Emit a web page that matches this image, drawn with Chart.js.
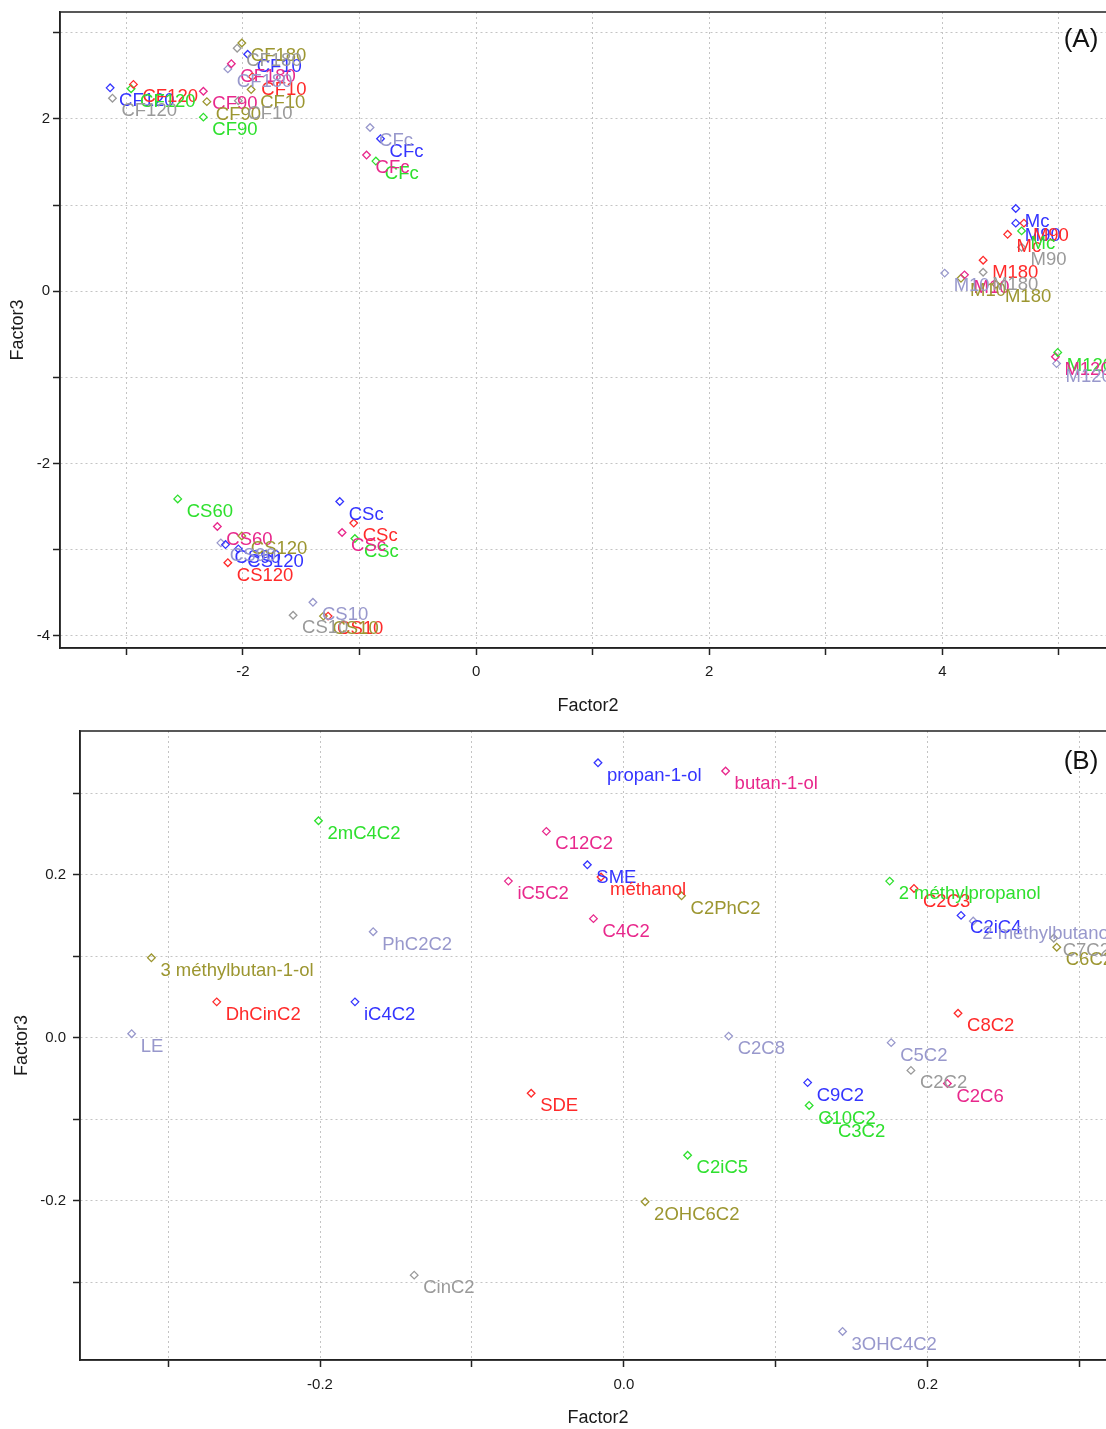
<!DOCTYPE html>
<html><head><meta charset="utf-8">
<script src="https://cdn.jsdelivr.net/npm/chart.js@4"></script>
<style>
html,body{margin:0;padding:0;background:#fff;overflow:hidden;width:1106px;height:1429px;}
#wrap{position:relative;width:1130px;height:1429px;}
canvas{position:absolute;left:0;}
#ca{top:0;width:1130px;height:715px;}
#cb{top:715px;width:1130px;height:714px;}
</style></head><body>
<div id="wrap"><canvas id="ca" width="1130" height="715"></canvas><canvas id="cb" width="1130" height="714"></canvas></div>
<script>
// ---------- Panel (A): samples ----------
const A_series  = ['S1','S1','S1','S1','S1','S1','S1','S1',
                   'S2','S2','S2','S2','S2','S2','S2','S2',
                   'S3','S3','S3','S3','S3','S3','S3',
                   'S4','S4','S4','S4','S4','S4','S4',
                   'S5','S5','S5','S5','S5','S5','S5',
                   'S6','S6','S6','S6','S6','S6',
                   'S7','S7','S7','S7','S7','S7'];
const A_labels  = ['CF120','CF10','CFc','CSc','CS90','CS120','Mc','M90',
                   'CF120','CF10','CSc','CS120','CS10','M90','Mc','M180',
                   'CF120','CF90','CFc','CS60','CSc','Mc','M120',
                   'CF90','CF180','CFc','CS60','CSc','M10','M120',
                   'CF180','CF90','CF10','CS120','CS10','M10','M180',
                   'CF180','CFc','CS90','CS10','M10','M120',
                   'CF120','CF180','CF10','CS10','M180','M90'];
const A_factor2 = [-3.14,-1.96,-0.82,-1.17,-2.15,-2.04,4.63,4.63,
                   -2.94,-1.92,-1.05,-2.13,-1.27,4.70,4.56,4.35,
                   -2.96,-2.34,-0.86,-2.56,-1.04,4.68,4.99,
                   -2.34,-2.10,-0.94,-2.22,-1.15,4.19,4.97,
                   -2.01,-2.31,-1.93,-2.01,-1.31,4.16,4.46,
                   -2.13,-0.91,-2.19,-1.40,4.02,4.98,
                   -3.12,-2.05,-2.04,-1.57,4.35,4.68];
const A_factor3 = [2.36,2.75,1.77,-2.44,-2.94,-2.99,0.96,0.79,
                   2.40,2.49,-2.69,-3.15,-3.77,0.79,0.66,0.36,
                   2.35,2.02,1.51,-2.41,-2.87,0.70,-0.71,
                   2.32,2.64,1.58,-2.73,-2.80,0.19,-0.76,
                   2.88,2.20,2.34,-2.84,-3.77,0.15,0.08,
                   2.58,1.90,-2.92,-3.61,0.21,-0.84,
                   2.24,2.82,2.21,-3.76,0.22,0.51];
const A_xTicks = [-2, 0, 2, 4];
const A_yTicks = [-4, -2, 0, 2];

// ---------- Panel (B): compounds ----------
const B_series  = ['S1','S1','S1','S1','S1',
                   'S2','S2','S2','S2','S2',
                   'S4','S4','S4','S4','S4',
                   'S3','S3','S3','S3','S3',
                   'S5','S5','S5','S5',
                   'S6','S6','S6','S6','S6','S6',
                   'S7','S7','S7'];
const B_labels  = ['propan-1-ol','SME','iC4C2','C9C2','C2iC4',
                   'méthanol','DhCinC2','SDE','C2C3','C8C2',
                   'butan-1-ol','C12C2','iC5C2','C4C2','C2C6',
                   '2mC4C2','2 méthylpropanol','C10C2','C3C2','C2iC5',
                   '3 méthylbutan-1-ol','C2PhC2','2OHC6C2','C6C2',
                   'PhC2C2','LE','C2C8','C5C2','3OHC4C2','2 méthylbutanol',
                   'C2C2','CinC2','C7C2'];
const B_factor2 = [-0.017,-0.024,-0.177,0.121,0.222,
                   -0.015,-0.268,-0.061,0.191,0.220,
                   0.067,-0.051,-0.076,-0.020,0.213,
                   -0.201,0.175,0.122,0.135,0.042,
                   -0.311,0.038,0.014,0.285,
                   -0.165,-0.324,0.069,0.176,0.144,0.230,
                   0.189,-0.138,0.283];
const B_factor3 = [0.337,0.212,0.044,-0.055,0.150,
                   0.197,0.044,-0.068,0.183,0.030,
                   0.327,0.253,0.192,0.146,-0.056,
                   0.266,0.192,-0.083,-0.100,-0.144,
                   0.098,0.174,-0.201,0.111,
                   0.130,0.005,0.002,-0.006,-0.360,0.143,
                   -0.040,-0.291,0.122];
const B_xTicks = [-0.2, 0.0, 0.2];
const B_yTicks = [-0.2, 0.0, 0.2];

// ---------- styles ----------
const SERIES_ORDER = ['S1','S2','S3','S4','S5','S6','S7'];
const SERIES_COLORS = {S1:'#3434ff', S2:'#ff2a2a', S3:'#2ee02e', S4:'#e8288c', S5:'#9c9630', S6:'#9898cc', S7:'#9a9a9a'};
const FONT = '"Liberation Sans", Arial, sans-serif';

function buildDatasets(series, labels, xs, ys) {
  return SERIES_ORDER.map(s => {
    const idx = series.map((v,i)=>v===s?i:-1).filter(i=>i>=0);
    return {
      label: s,
      data: idx.map(i => ({x: xs[i], y: ys[i]})),
      pointLabels: idx.map(i => labels[i]),
      borderColor: SERIES_COLORS[s],
      backgroundColor: 'rgba(255,255,255,0)',
      pointStyle: 'rectRot', pointRadius: 3.8, pointBorderWidth: 1.3,
      showLine: false
    };
  });
}

const labelPlugin = {
  id: 'pointLabels',
  afterDatasetsDraw(chart, args, opts) {
    const ctx = chart.ctx;
    ctx.save();
    ctx.font = opts.font;
    ctx.textBaseline = 'middle';
    ctx.textAlign = 'left';
    chart.data.datasets.forEach((ds, di) => {
      const meta = chart.getDatasetMeta(di);
      ctx.fillStyle = ds.borderColor;
      meta.data.forEach((pt, j) => {
        ctx.fillText(ds.pointLabels[j], pt.x + 9, pt.y + 13);
      });
    });
    ctx.restore();
  }
};
const framePlugin = {
  id: 'frame',
  afterDraw(chart, args, opts) {
    const {ctx, chartArea: a} = chart;
    ctx.save();
    ctx.strokeStyle = '#222'; ctx.lineWidth = 1.5;
    ctx.strokeRect(a.left, a.top, a.right - a.left, a.bottom - a.top);
    ctx.font = '26px ' + FONT; ctx.fillStyle = '#111';
    ctx.textAlign = 'center'; ctx.textBaseline = 'middle';
    ctx.fillText(opts.text, opts.x, a.top + opts.dy);
    ctx.restore();
  }
};

function makeChart(id, cfg) {
  const tickSet = (list) => (v) => {
    const hit = list.find(t => Math.abs(t - v) < 1e-6);
    return hit === undefined ? '' : cfg.fmt(hit);
  };
  return new Chart(document.getElementById(id), {
    type: 'scatter',
    data: { datasets: buildDatasets(cfg.series, cfg.labels, cfg.xs, cfg.ys) },
    plugins: [labelPlugin, framePlugin],
    options: {
      responsive: false, animation: false, devicePixelRatio: 1,
      layout: { padding: { top: cfg.padTop, right: 14, left: 0, bottom: 0 } },
      plugins: {
        legend: {display:false}, tooltip: {enabled:false},
        pointLabels: { font: '18.5px ' + FONT },
        frame: { text: cfg.tag, x: 1081, dy: cfg.tagDy }
      },
      scales: {
        x: {
          type: 'linear', position: 'bottom', min: cfg.xmin, max: cfg.xmax,
          afterFit: s => { s.height = cfg.xAxisH; },
          ticks: { stepSize: cfg.step, includeBounds: false, autoSkip: false, maxRotation: 0,
                   padding: cfg.xTickPad, color: '#1a1a1a', font: {family: FONT, size: 15},
                   callback: tickSet(cfg.xTicks) },
          grid: { color: '#c4c4c4', lineWidth: 1, drawTicks: true, tickLength: 7,
                  tickColor: '#222', tickWidth: 1.5, tickBorderDash: [] },
          border: { display: true, color: '#222', width: 1.5, dash: [2, 3] },
          title: { display: true, text: 'Factor2', color: '#1a1a1a', font: {family: FONT, size: 18},
                   padding: {top: 0, bottom: cfg.xTitlePad} }
        },
        y: {
          type: 'linear', position: 'left', min: cfg.ymin, max: cfg.ymax,
          afterFit: s => { s.width = cfg.yAxisW; },
          ticks: { stepSize: cfg.step, includeBounds: false, autoSkip: false,
                   padding: cfg.yTickPad, color: '#1a1a1a', font: {family: FONT, size: 15},
                   callback: tickSet(cfg.yTicks) },
          grid: { color: '#c4c4c4', lineWidth: 1, drawTicks: true, tickLength: 7,
                  tickColor: '#222', tickWidth: 1.5, tickBorderDash: [] },
          border: { display: true, color: '#222', width: 1.5, dash: [2, 3] },
          title: { display: true, text: 'Factor3', color: '#1a1a1a', font: {family: FONT, size: 18},
                   padding: {top: cfg.yTitlePad, bottom: 0} }
        }
      }
    }
  });
}

makeChart('ca', {
  series: A_series, labels: A_labels, xs: A_factor2, ys: A_factor3,
  xTicks: A_xTicks, yTicks: A_yTicks, fmt: v => String(v),
  xmin: -3.57, xmax: 5.49, ymin: -4.14, ymax: 3.24, step: 1,
  padTop: 12, xAxisH: 67, yAxisW: 60, xTickPad: 8, yTickPad: 3,
  xTitlePad: -2, yTitlePad: 7, tag: '(A)', tagDy: 28
});
makeChart('cb', {
  series: B_series, labels: B_labels, xs: B_factor2, ys: B_factor3,
  xTicks: B_xTicks, yTicks: B_yTicks, fmt: v => v.toFixed(1),
  xmin: -0.358, xmax: 0.324, ymin: -0.395, ymax: 0.376, step: 0.1,
  padTop: 9, xAxisH: 69, yAxisW: 80, xTickPad: 9, yTickPad: 7,
  xTitlePad: 0, yTitlePad: 11, tag: '(B)', tagDy: 31
});
</script>
</body></html>
